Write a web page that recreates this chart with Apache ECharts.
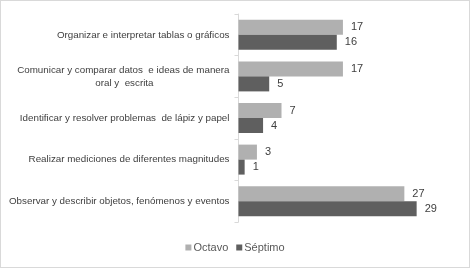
<!DOCTYPE html>
<html>
<head>
<meta charset="utf-8">
<script src="https://cdn.jsdelivr.net/npm/echarts@6/dist/echarts.min.js"></script>
<style>
  html, body { margin: 0; padding: 0; background: #fff; }
  #chart { width: 470px; height: 268px; box-sizing: border-box; border: 1px solid #d9d9d9; }
</style>
</head>
<body>
<div id="chart"></div>
<script>
const categories = [
  'Organizar e interpretar tablas o gráficos',
  'Comunicar y comparar datos  e ideas de manera\noral y  escrita',
  'Identificar y resolver problemas  de lápiz y papel',
  'Realizar mediciones de diferentes magnitudes',
  'Observar y describir objetos, fenómenos y eventos'
]
const octavo = [17, 17, 7, 3, 27]
const septimo = [16, 5, 4, 1, 29]

const FONT = 'Liberation Sans, Arial, sans-serif'
const LABEL_SIZE = 9.8
const LABEL_COLOR = '#404040'
// right padding that centres the wrapped label's second line under its first
const SECOND_LINE_PAD = 76

const chart = echarts.init(document.getElementById('chart'), null, { renderer: 'canvas' })

function formatCategory(value) {
  const lines = String(value).split('\n')
  if (lines.length === 1) {
    return value
  }
  return lines.map((line, li) => '{l' + li + '|' + line + '}').join('\n')
}

function barSeries(name, data, color) {
  return {
    name,
    type: 'bar',
    data,
    barWidth: 15,
    barGap: '0%',
    itemStyle: { color },
    label: {
      show: true,
      position: 'right',
      distance: 8,
      color: LABEL_COLOR,
      fontFamily: FONT,
      fontSize: 11
    },
    emphasis: { disabled: true }
  }
}

chart.setOption({
  animation: false,
  textStyle: { fontFamily: FONT },
  legend: {
    bottom: 9,
    left: 'center',
    itemWidth: 6,
    itemHeight: 6,
    itemGap: 8,
    icon: 'rect',
    textStyle: { color: '#595959', fontSize: 11, fontFamily: FONT, padding: [0, 0, 0, -3] },
    data: ['Octavo', 'Séptimo']
  },
  grid: {
    top: 13,
    bottom: 45,
    left: 237.5,
    width: 215
  },
  xAxis: {
    type: 'value',
    min: 0,
    max: 35,
    show: false
  },
  yAxis: {
    type: 'category',
    inverse: true,
    data: categories,
    axisLine: { lineStyle: { color: '#d9d9d9', width: 1 } },
    axisTick: { show: true, length: 4, lineStyle: { color: '#d9d9d9' } },
    axisLabel: {
      color: LABEL_COLOR,
      fontSize: LABEL_SIZE,
      fontFamily: FONT,
      lineHeight: 13,
      margin: 9,
      formatter: formatCategory,
      rich: {
        l0: { color: LABEL_COLOR, fontSize: LABEL_SIZE, fontFamily: FONT, lineHeight: 13 },
        l1: { color: LABEL_COLOR, fontSize: LABEL_SIZE, fontFamily: FONT, lineHeight: 13, padding: [0, SECOND_LINE_PAD, 0, 0] }
      }
    }
  },
  series: [
    barSeries('Octavo', octavo, '#b0b0b0'),
    barSeries('Séptimo', septimo, '#5f5f5f')
  ]
})
</script>
</body>
</html>
